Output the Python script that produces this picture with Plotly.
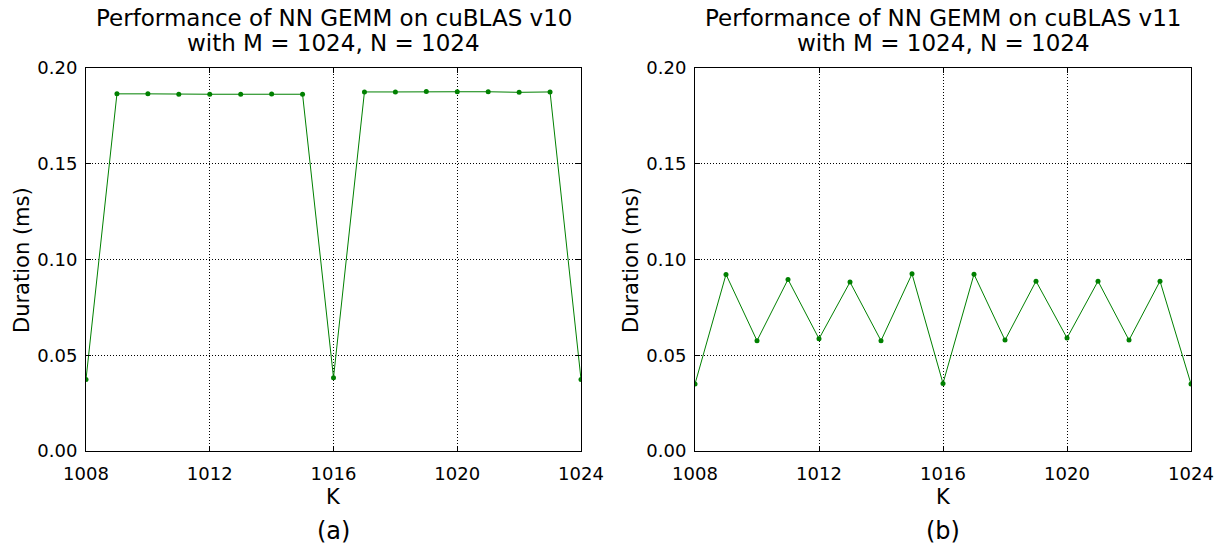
import plotly.graph_objects as go

K = list(range(1008, 1025))
v10 = [0.0374, 0.1865, 0.1865, 0.1863, 0.1863, 0.1863, 0.1864, 0.1863, 0.0383,
       0.1875, 0.1875, 0.1877, 0.1876, 0.1876, 0.1873, 0.1875, 0.0374]
v11 = [0.0350, 0.0922, 0.0576, 0.0896, 0.0586, 0.0882, 0.0576, 0.0925, 0.0353,
       0.0923, 0.0579, 0.0887, 0.0590, 0.0887, 0.0579, 0.0887, 0.0350]
title_l1 = ["Performance of NN GEMM on cuBLAS v10", "Performance of NN GEMM on cuBLAS v11"]
title_l2 = ["with M = 1024, N = 1024", "with M = 1024, N = 1024"]
labels = ["(a)", "(b)"]
xticks = [1008, 1012, 1016, 1020, 1024]
yticks = [0.0, 0.05, 0.10, 0.15, 0.20]

W, H = 1223, 548
FONT = "DejaVu Sans"
GREEN = "#008000"

fig = go.Figure()
fig.add_trace(go.Scatter(x=K, y=v10, mode="lines+markers", xaxis="x", yaxis="y",
                         line=dict(color=GREEN, width=1),
                         marker=dict(color=GREEN, size=5), showlegend=False))
fig.add_trace(go.Scatter(x=K, y=v11, mode="lines+markers", xaxis="x2", yaxis="y2",
                         line=dict(color=GREEN, width=1),
                         marker=dict(color=GREEN, size=5), showlegend=False))

px = [(86, 581), (695, 1191)]
ytop, ybot = 68, 451
ydom = [(H - ybot) / H, (H - ytop) / H]

axis_common = dict(showline=True, linecolor="black", linewidth=1, mirror="allticks",
                   ticks="inside", ticklen=5, tickcolor="black", automargin=False,
                   showgrid=True, gridcolor="black", gridwidth=1, griddash="1px,2px",
                   zeroline=False, tickfont=dict(family=FONT, size=18, color="black"))

layout = dict(width=W, height=H, margin=dict(l=0, r=0, t=0, b=0),
              paper_bgcolor="white", plot_bgcolor="white",
              font=dict(family=FONT, color="black"))
for i, (a, b) in enumerate(px):
    sx = "" if i == 0 else "2"
    layout["xaxis" + sx] = dict(domain=[a / W, b / W], range=[1008, 1024],
                                tickvals=xticks, ticktext=[str(t) for t in xticks],
                                anchor="y" + sx, ticklabelstandoff=6, **axis_common)
    layout["yaxis" + sx] = dict(domain=ydom, range=[0, 0.20], tickvals=yticks,
                                ticktext=["%.2f" % t for t in yticks],
                                anchor="x" + sx, ticklabelstandoff=4, **axis_common)
fig.update_layout(**layout)

def ann(text, x, y, size, angle=0):
    return dict(text=text, x=x / W, y=1 - y / H, xref="paper", yref="paper",
                showarrow=False, xanchor="center", yanchor="middle", textangle=angle,
                font=dict(family=FONT, size=size, color="black"))

anns = []
for i, (a, b) in enumerate(px):
    cx = (a + b) / 2
    anns.append(ann(title_l1[i], cx, 18, 23))
    anns.append(ann(title_l2[i], cx, 43, 23))
    anns.append(ann("K", cx, 497, 21))
    anns.append(ann(labels[i], cx, 531, 24))
    anns.append(ann("Duration (ms)", a - 64, 260, 21, -90))
fig.update_layout(annotations=anns)

fig.write_html("out.html", config={"displayModeBar": False},
               post_script="document.body.style.margin='0px';")
